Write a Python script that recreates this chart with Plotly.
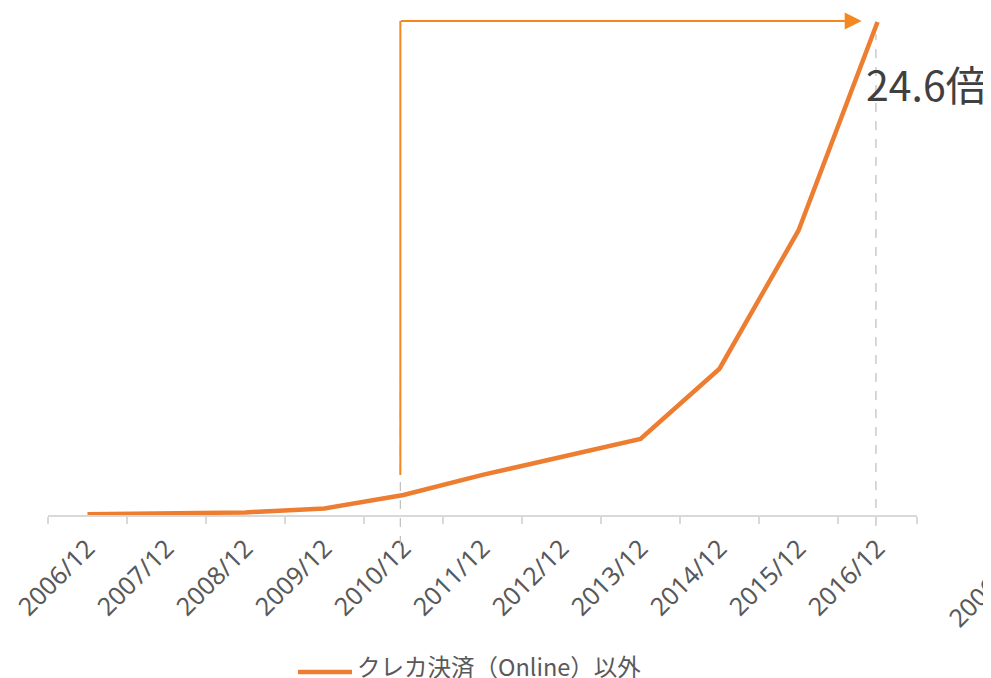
import plotly.graph_objects as go

categories = ["2006/12", "2007/12", "2008/12", "2009/12", "2010/12", "2011/12",
              "2012/12", "2013/12", "2014/12", "2015/12", "2016/12"]
values = [0.04, 0.08, 0.13, 0.33, 1.0, 2.0, 2.9, 3.8, 7.3, 14.2, 24.6]
series_name = "クレカ決済（Online）以外"
ratio_text = "24.6倍"
clipped_label = "2006/12"

LINE = "#ED7D31"
ARROW = "#F5871F"
GRID = "#D9D9D9"
TEXT = "#595959"

# page body has an 8px margin: figure is drawn at (8, 8) in the window
OFF = 8
W, H = 991 - OFF, 678 - OFF
L, T = 48 - OFF, 10 - OFF
R = W - (917 - OFF)
B = H - (515 - OFF)
PW, PH = W - L - R, H - T - B
YMAX = 25.2
n = len(categories)

def px(sx):  # screen x -> paper x
    return (sx - OFF - L) / PW

def py(sy):  # screen y -> paper y
    return (H - B - (sy - OFF)) / PH

def xp(idx):
    return (idx + 0.5) / n

fig = go.Figure()
fig.add_trace(go.Scatter(
    x=categories, y=values, mode="lines", name=series_name,
    line=dict(color=LINE, width=4.5), showlegend=False, cliponaxis=False,
))

i0, i1 = 4, 10
x_start = i0 - 0.04
x_end = i1 - 0.2

shapes = [
    dict(type="line", xref="paper", yref="paper", x0=xp(x_start), x1=xp(x_start),
         y0=py(545), y1=py(380), line=dict(color="#BFBFBF", width=1.2, dash="dash")),
    dict(type="line", xref="paper", yref="paper", x0=xp(i1 - 0.02), x1=xp(i1 - 0.02),
         y0=py(526), y1=py(34), line=dict(color="#BFBFBF", width=1.2, dash="dash")),
    dict(type="line", xref="x", yref="y", x0=x_start, x1=x_start,
         y0=values[5], y1=values[i1] + 0.05, line=dict(color=ARROW, width=2)),
    dict(type="line", xref="paper", yref="paper",
         x0=px(298), x1=px(352), y0=py(672), y1=py(672),
         line=dict(color=LINE, width=4.5)),
]

annotations = [
    dict(x=x_end, y=values[i1] + 0.05, ax=x_start - 0.012, ay=values[i1] + 0.05,
         xref="x", yref="y", axref="x", ayref="y", text="", showarrow=True,
         arrowhead=2, arrowsize=1.7, arrowwidth=2, arrowcolor=ARROW, standoff=0),
    dict(x=px(864), y=py(83), xref="paper", yref="paper",
         text=ratio_text, showarrow=False, xanchor="left", yanchor="middle",
         font=dict(family="Noto Sans CJK JP, Noto Sans, sans-serif", size=41, color="#404040")),
    dict(x=px(355), y=py(666), xref="paper", yref="paper",
         text=series_name, showarrow=False, xanchor="left", yanchor="middle",
         font=dict(family="Noto Sans CJK JP, Noto Sans, sans-serif", size=23.5, color=TEXT)),
    dict(x=px(938), y=py(540), xref="paper", yref="paper",
         text=clipped_label, showarrow=False, xanchor="left", yanchor="top", textangle=-45,
         font=dict(family="Noto Sans, sans-serif", size=25, color=TEXT)),
]

fig.update_layout(
    width=W, height=H,
    margin=dict(l=L, r=R, t=T, b=B, autoexpand=False),
    paper_bgcolor="white", plot_bgcolor="white",
    shapes=shapes, annotations=annotations,
    xaxis=dict(
        type="category", categoryorder="array", categoryarray=categories,
        range=[-0.5, n - 0.5], tickson="boundaries", ticks="outside", ticklen=7,
        tickcolor=GRID, tickwidth=1.5, showline=True, linecolor=GRID, linewidth=1.5,
        showgrid=False, zeroline=False, tickangle=-45, ticklabelstandoff=7,
        tickfont=dict(family="Noto Sans, sans-serif", size=25, color=TEXT),
    ),
    yaxis=dict(range=[0, YMAX], visible=False, showgrid=False, zeroline=False),
)

fig.write_html("out.html")
